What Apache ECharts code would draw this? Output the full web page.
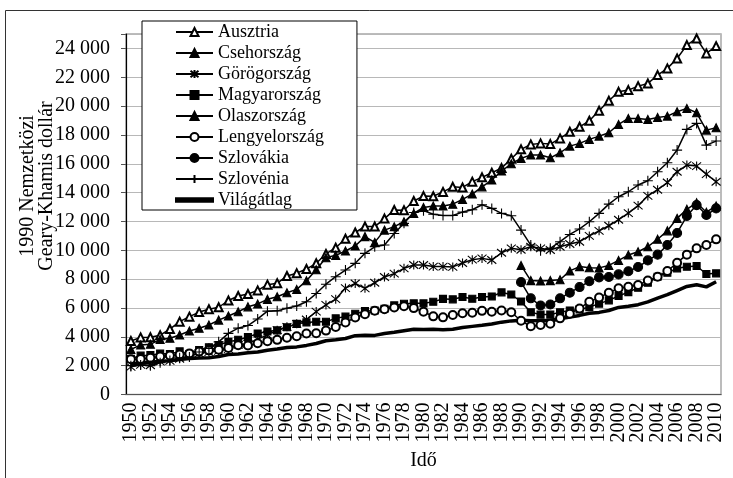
<!DOCTYPE html>
<html><head><meta charset="utf-8">
<script src="https://cdn.jsdelivr.net/npm/echarts@6/dist/echarts.min.js"></script>
<style>html,body{margin:0;padding:0;background:#fff}#c{width:733px;height:478px}</style>
</head><body><div id="c"></div>
<script>
var years = ['1950','1951','1952','1953','1954','1955','1956','1957','1958','1959',
 '1960','1961','1962','1963','1964','1965','1966','1967','1968','1969',
 '1970','1971','1972','1973','1974','1975','1976','1977','1978','1979',
 '1980','1981','1982','1983','1984','1985','1986','1987','1988','1989',
 '1990','1991','1992','1993','1994','1995','1996','1997','1998','1999',
 '2000','2001','2002','2003','2004','2005','2006','2007','2008','2009','2010'];

var ausztria = [3706,3959,3967,4110,4540,5053,5397,5716,5907,6051,
 6519,6827,6966,7220,7618,7720,8216,8415,8700,9100,
 9747,10180,10800,11235,11650,11646,12200,12790,12780,13420,
 13760,13750,14050,14400,14360,14760,15060,15380,15700,16350,
 17000,17345,17415,17365,17760,18220,18565,18980,19675,20370,
 20990,21110,21385,21570,22150,22615,23305,24230,24690,23655,24160];

var csehorszag = [null,null,null,null,null,null,null,null,null,null,
 null,null,null,null,null,null,null,null,null,null,
 null,null,null,null,null,null,null,null,null,null,
 null,null,null,null,null,null,null,null,null,null,
 8950,7900,7870,7900,7960,8570,8870,8790,8780,8950,
 9300,9670,9900,10245,10770,11350,12215,12840,13300,12640,13080];

var gorogorszag = [1915,2050,2030,2280,2330,2480,2680,2850,2940,3030,
 3150,3440,3520,3840,4130,4460,4690,4900,5200,5750,
 6210,6610,7380,7700,7360,7750,8150,8380,8750,8980,
 8980,8870,8870,8850,9120,9350,9440,9325,9830,10135,
 10040,10245,10135,10020,10245,10435,10595,11000,11350,11700,
 12120,12580,13100,13770,14200,14700,15445,15910,15840,15285,14755];

var magyarorszag = [2480,2700,2730,2840,2810,2990,2800,3090,3280,3430,
 3650,3800,3980,4230,4370,4450,4660,4900,5000,5050,
 5050,5280,5400,5600,5780,5830,5950,6180,6290,6320,
 6320,6430,6630,6600,6760,6640,6760,6800,7080,6930,
 6450,5700,5540,5540,5700,5830,5900,6060,6300,6530,
 6830,7100,7400,7750,8170,8445,8750,8860,8910,8355,8400];

var olaszorszag = [3130,3430,3480,3820,3900,4130,4400,4590,4820,5160,
 5440,5740,6080,6280,6600,6780,7060,7290,7890,8650,
 9480,9650,9950,10300,10950,10550,11400,11640,11980,12560,
 12975,13070,13070,13200,13530,13900,14400,14870,15500,16000,
 16375,16605,16605,16415,16765,17225,17415,17690,17920,18150,
 18730,19145,19145,19075,19215,19305,19605,19840,19535,18335,18495];

var lengyelorszag = [2450,2470,2540,2640,2700,2780,2850,2980,3060,3100,
 3220,3420,3400,3560,3700,3790,3930,4040,4230,4250,
 4430,4680,4990,5340,5560,5810,5920,6040,6120,5990,
 5740,5420,5350,5510,5630,5670,5800,5740,5820,5700,
 5115,4730,4820,4910,5280,5600,5970,6435,6720,7060,
 7360,7470,7590,7900,8170,8560,9140,9700,10135,10365,10760];

var szlovakia = [null,null,null,null,null,null,null,null,null,null,
 null,null,null,null,null,null,null,null,null,null,
 null,null,null,null,null,null,null,null,null,null,
 null,null,null,null,null,null,null,null,null,null,
 7790,6670,6170,6240,6670,7060,7450,7850,8125,8150,
 8330,8550,8840,9300,9700,10365,11200,12375,13135,12445,12905];

var szlovenia = [2000,2050,2000,2200,2350,2550,2600,2950,3200,3650,
 4240,4600,4780,5240,5780,5800,5980,6140,6435,7000,
 7650,8170,8630,9095,9790,10245,10365,11170,11870,12620,
 12750,12500,12410,12410,12650,12815,13160,12905,12560,12400,
 11400,10365,9970,10135,10595,11100,11480,11980,12560,13200,
 13715,14060,14525,14820,15445,16070,16950,18385,18800,17295,17575];

var vilagatlag = [2111,2188,2238,2308,2336,2429,2490,2535,2556,2630,
 2773,2812,2891,2947,3072,3157,3256,3302,3405,3540,
 3729,3804,3885,4081,4108,4099,4227,4316,4425,4521,
 4512,4528,4484,4530,4649,4725,4801,4889,5018,5105,
 5150,5114,5131,5152,5253,5367,5485,5634,5693,5827,
 6038,6117,6230,6420,6687,6924,7209,7494,7614,7462,7814];

var seriesNames = ['Ausztria','Csehország','Görögország','Magyarország','Olaszország','Lengyelország','Szlovákia','Szlovénia','Világátlag'];
var yTicks = [0,2000,4000,6000,8000,10000,12000,14000,16000,18000,20000,22000,24000];

var SERIF = '"Liberation Serif", "DejaVu Serif", serif';
var starPath = 'path://M0,0L10,10M10,0L0,10M5,-1L5,11';
var plusPath = 'path://M5,0L5,10M0,5L10,5';

function mk(name, data, symbol, size, lw) {
  return {
    name: name, type: 'line', data: data, symbol: symbol, symbolSize: size,
    showSymbol: symbol !== 'none', showAllSymbol: true, connectNulls: false, animation: false,
    lineStyle: {color: '#000', width: lw},
    itemStyle: {color: '#000', borderColor: '#000', borderWidth: 1.1},
    emphasis: {disabled: true}
  };
}

var legendData = seriesNames.map(function (n) {
  return n === 'Világátlag' ? {name: n, icon: 'path://M0,0L40,0L40,4L0,4Z'} : {name: n};
});

var chart = echarts.init(document.getElementById('c'), null, {renderer: 'canvas'});
chart.setOption({
  animation: false,
  backgroundColor: '#fff',
  grid: {left: 126, right: 12, top: 34, bottom: 83.5, show: true, borderColor: '#a6a6a6', borderWidth: 1.5, backgroundColor: 'transparent'},
  legend: {
    data: legendData, orient: 'vertical', left: 142, top: 21,
    padding: [2, 33, 1, 33], itemGap: 3, itemWidth: 37, itemHeight: 10,
    backgroundColor: '#fff', borderColor: '#000', borderWidth: 1,
    textStyle: {fontFamily: SERIF, fontSize: 18, color: '#000', lineHeight: 18},
    selectedMode: false
  },
  xAxis: {
    type: 'category', data: years, boundaryGap: true,
    name: 'Idő', nameLocation: 'middle', nameGap: 54,
    nameTextStyle: {fontFamily: SERIF, fontSize: 20, color: '#000'},
    axisLine: {lineStyle: {color: '#555', width: 1.2}},
    axisTick: {interval: 0, length: 5, lineStyle: {color: '#555'}},
    axisLabel: {interval: 0, rotate: 90, margin: 8, hideOverlap: false,
      formatter: function (v, i) { return i % 2 === 0 ? v : ''; },
      fontFamily: SERIF, fontSize: 20, color: '#000'},
    splitLine: {show: false}
  },
  yAxis: {
    type: 'value', min: 0, max: 25000, interval: 2000,
    axisLine: {show: true, lineStyle: {color: '#000', width: 1.2}},
    axisTick: {show: true, length: 5, lineStyle: {color: '#555'}},
    axisLabel: {margin: 16, fontFamily: SERIF, fontSize: 20, color: '#000',
      formatter: function (v) { return yTicks.indexOf(v) < 0 ? '' : String(v).replace(/\B(?=(\d{3})+(?!\d))/g, ' '); }},
    splitLine: {lineStyle: {color: '#b8b8b8', width: 1.2}}
  },
  graphic: [
    {type: 'line', shape: {x1: 5.5, y1: 10.5, x2: 5.5, y2: 478}, style: {stroke: '#333', lineWidth: 1}},
    {type: 'line', shape: {x1: 5.5, y1: 10.5, x2: 733, y2: 10.5}, style: {stroke: '#333', lineWidth: 1}},
    {type: 'text', x: 37.5, y: 186, rotation: Math.PI / 2,
     style: {text: '1990 Nemzetközi\nGeary-Khamis dollár', fontFamily: SERIF, fontSize: 20, lineHeight: 19,
             align: 'center', verticalAlign: 'middle', fill: '#000'}}
  ],
  series: [
    mk('Ausztria', ausztria, 'emptyTriangle', 8, 1.5),
    mk('Csehország', csehorszag, 'triangle', 8, 1.5),
    mk('Görögország', gorogorszag, starPath, 9, 1.5),
    mk('Magyarország', magyarorszag, 'rect', 7, 1.5),
    mk('Olaszország', olaszorszag, 'triangle', 8, 1.5),
    mk('Lengyelország', lengyelorszag, 'emptyCircle', 8, 1.5),
    mk('Szlovákia', szlovakia, 'circle', 9, 1.5),
    mk('Szlovénia', szlovenia, plusPath, 10, 1.5),
    mk('Világátlag', vilagatlag, 'none', 0, 3.5)
  ]
});
</script>
</body></html>
